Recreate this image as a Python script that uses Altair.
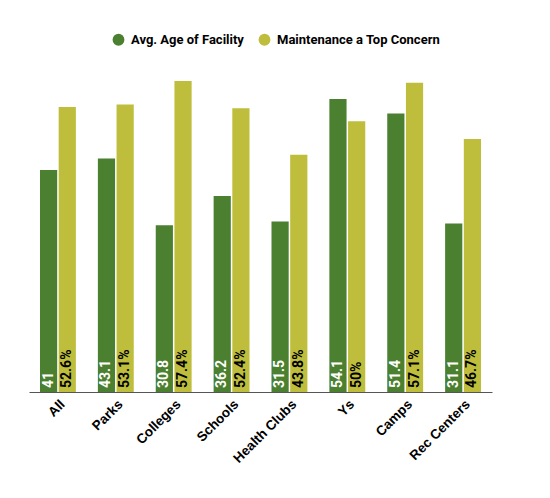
import altair as alt
import pandas as pd

categories = ["All", "Parks", "Colleges", "Schools", "Health Clubs", "Ys", "Camps", "Rec Centers"]
avg_age = [41, 43.1, 30.8, 36.2, 31.5, 54.1, 51.4, 31.1]
maintenance = [52.6, 53.1, 57.4, 52.4, 43.8, 50, 57.1, 46.7]
series_names = ["Avg. Age of Facility", "Maintenance a Top Concern"]
colors = ["#4b8030", "#bebe3c"]

rows = []
for c, a, m in zip(categories, avg_age, maintenance):
    rows.append({"category": c, "series": series_names[0], "value": a, "label": f"{a:g}"})
    rows.append({"category": c, "series": series_names[1], "value": m, "label": f"{m:g}%"})
df = pd.DataFrame(rows)

base = alt.Chart(df).encode(
    x=alt.X(
        "category:N",
        sort=categories,
        scale=alt.Scale(paddingInner=0.38, paddingOuter=0.19),
        axis=alt.Axis(
            title=None,
            labelAngle=-45,
            labelFont="Liberation Sans",
            labelFontWeight="bold",
            labelFontSize=13.5,
            labelColor="black",
            ticks=False,
            domainColor="#555555",
            labelPadding=5,
        ),
    ),
    xOffset=alt.XOffset("series:N", sort=series_names, scale=alt.Scale(paddingInner=0.08)),
)

bars = base.mark_bar().encode(
    y=alt.Y("value:Q", scale=alt.Scale(domain=[0, 60]), axis=None),
    color=alt.Color(
        "series:N",
        sort=series_names,
        scale=alt.Scale(domain=series_names, range=colors),
        legend=alt.Legend(
            title=None,
            orient="none",
            direction="horizontal",
            legendX=83,
            legendY=-34,
            symbolType="circle",
            symbolSize=140,
            symbolOpacity=1,
            symbolStrokeWidth=0,
            labelFont="Roboto",
            labelFontWeight="bold",
            labelFontSize=13,
            labelColor="black",
            labelOffset=6,
            labelLimit=300,
            columnPadding=14,
        ),
    ),
)

text = base.mark_text(
    angle=270, align="left", baseline="middle", dx=4,
    font="Roboto", fontWeight="bold", fontSize=14,
).encode(
    y=alt.Y(datum=0),
    text="label:N",
    color=alt.condition(alt.datum.series == series_names[0], alt.value("white"), alt.value("black")),
)

chart = (
    alt.layer(bars, text)
    .properties(
        width=463,
        height=325,
        autosize="none",
        padding={"left": 21, "top": 59, "right": 20, "bottom": 90},
    )
    .configure_view(stroke=None)
)

chart.save("out.html", embed_options={"renderer": "svg", "actions": False})
